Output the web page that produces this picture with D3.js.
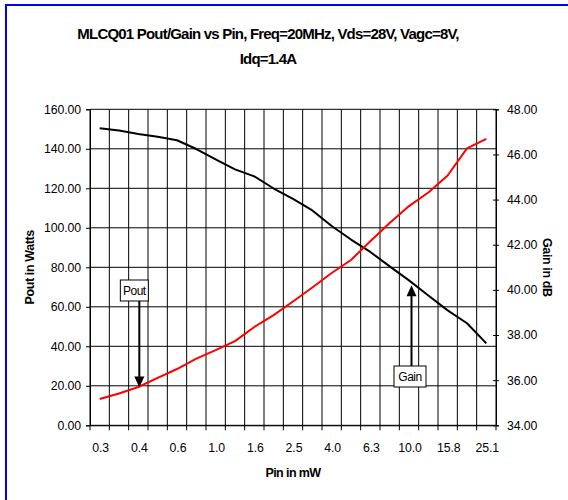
<!DOCTYPE html>
<html>
<head>
<meta charset="utf-8">
<script src="https://cdn.jsdelivr.net/npm/d3@7"></script>
<style>
  html, body { margin: 0; padding: 0; background: #ffffff; }
  svg { display: block; font-family: "Liberation Sans", Arial, sans-serif; }
</style>
</head>
<body>
<svg id="chart" width="568" height="500"></svg>
<script>
// ---- Data ----
const pinLabels = ["0.3","0.3","0.4","0.5","0.6","0.8","1.0","1.3","1.6","2.0","2.5",
                   "3.2","4.0","5.0","6.3","7.9","10.0","12.6","15.8","20.0","25.1"];
const poutWatts = [13.3, 16.1, 19.4, 24.0, 28.5, 33.8, 38.1, 42.6, 49.8, 55.8, 62.7,
                   69.8, 77.1, 83.7, 93.2, 102.4, 111.0, 117.9, 126.5, 140.2, 145.0];
const gainDb    = [47.16, 47.06, 46.91, 46.78, 46.63, 46.24, 45.78, 45.34, 45.03, 44.49, 44.03,
                   43.52, 42.83, 42.23, 41.68, 41.04, 40.42, 39.75, 39.09, 38.52, 37.63];
const leftTicks  = [0, 20, 40, 60, 80, 100, 120, 140, 160];
const rightTicks = [34, 36, 38, 40, 42, 44, 46, 48];
const titleLines = ["MLCQ01 Pout/Gain vs Pin, Freq=20MHz, Vds=28V, Vagc=8V,", "Idq=1.4A"];
// annotation callouts: label, category index, value pointed at
const calloutLabels = ["Pout", "Gain"];
const calloutIndex  = [2, 16];
const calloutValue  = [19.2, 40.2];

// ---- Layout ----
const svg = d3.select("#chart");
const L = 90, R = 496, T = 109.3, B = 425.3;

const x = d3.scaleBand().domain(d3.range(pinLabels.length)).range([L, R]).paddingInner(0).paddingOuter(0);
const cx = i => x(i) + x.bandwidth() / 2;
const yL = d3.scaleLinear().domain([0, 160]).range([B, T]);
const yR = d3.scaleLinear().domain([34, 48]).range([B, T]);

// Blue outer border
svg.append("path").attr("d", "M6,500 V5 H568")
  .attr("fill", "none").attr("stroke", "#0000ff").attr("stroke-width", 2);

// Title
svg.append("g").selectAll("text").data(titleLines).join("text")
  .attr("x", 268).attr("y", (d, i) => 39 + i * 25)
  .attr("text-anchor", "middle")
  .attr("font-size", 15).attr("font-weight", "bold")
  .attr("letter-spacing", -0.8)
  .text(d => d);

// Gridlines
const grid = svg.append("g").attr("stroke", "#000").attr("stroke-width", 1);
const bounds = d3.range(pinLabels.length + 1).map(i => i < pinLabels.length ? x(i) : x(i - 1) + x.bandwidth());
grid.selectAll("line.v").data(bounds).join("line").attr("class", "v")
  .attr("x1", d => d).attr("x2", d => d).attr("y1", T).attr("y2", B);
grid.selectAll("line.h").data(leftTicks).join("line").attr("class", "h")
  .attr("x1", L).attr("x2", R).attr("y1", d => yL(d)).attr("y2", d => yL(d));

// Left axis
const fmt = d3.format(".2f");
const gl = svg.append("g").attr("transform", `translate(${L},0)`)
  .call(d3.axisLeft(yL).tickValues(leftTicks).tickFormat(fmt).tickSize(4).tickPadding(5));
// Right axis
const gr = svg.append("g").attr("transform", `translate(${R},0)`)
  .call(d3.axisRight(yR).tickValues(rightTicks).tickFormat(fmt).tickSize(3).tickPadding(8));
gr.selectAll(".tick line").attr("x1", -3);
// Bottom axis
const gb = svg.append("g").attr("transform", `translate(0,${B})`)
  .call(d3.axisBottom(x).tickValues(d3.range(0, pinLabels.length, 2))
        .tickFormat(i => pinLabels[i]).tickSize(0).tickPadding(18));
gb.selectAll(".tick").attr("transform", d => `translate(${cx(d) + 1},0)`);
gb.append("g").selectAll("line").data(bounds).join("line")
  .attr("x1", d => d).attr("x2", d => d).attr("y1", 0).attr("y2", 5).attr("stroke", "#000");

[gl, gr, gb].forEach(g => {
  g.selectAll("path.domain").attr("stroke", "#000").attr("stroke-width", 1);
  g.selectAll(".tick line").attr("stroke", "#000");
  g.selectAll("text").attr("font-size", 12.3).attr("fill", "#000")
   .attr("font-family", "'Liberation Sans', Arial, sans-serif").attr("letter-spacing", -0.1);
});

// Axis titles
svg.append("text").attr("transform", `translate(34,${(T + B) / 2}) rotate(-90)`)
  .attr("text-anchor", "middle").attr("font-size", 12.5).attr("font-weight", "bold")
  .attr("letter-spacing", -0.4).text("Pout in Watts");
svg.append("text").attr("transform", `translate(543,${(T + B) / 2}) rotate(90)`)
  .attr("text-anchor", "middle").attr("font-size", 12.5).attr("font-weight", "bold")
  .attr("letter-spacing", -0.4).text("Gain in dB");
svg.append("text").attr("x", (L + R) / 2).attr("y", 477)
  .attr("text-anchor", "middle").attr("font-size", 12.5).attr("font-weight", "bold")
  .attr("letter-spacing", -0.6).text("Pin in mW");

// Lines
const lineL = d3.line().x((d, i) => cx(i)).y(d => yL(d));
const lineR = d3.line().x((d, i) => cx(i)).y(d => yR(d));
svg.append("path").datum(gainDb).attr("d", lineR)
  .attr("fill", "none").attr("stroke", "#000").attr("stroke-width", 2).attr("stroke-linejoin", "round");
svg.append("path").datum(poutWatts).attr("d", lineL)
  .attr("fill", "none").attr("stroke", "#ff0000").attr("stroke-width", 2).attr("stroke-linejoin", "round");

// Callouts
const calloutScales = [yL, yR];
const boxY = [280, 366];
calloutLabels.forEach((lab, k) => {
  const tx = cx(calloutIndex[k]) + (k === 0 ? 1 : 2.5);
  const ty = calloutScales[k](calloutValue[k]);
  const bw = k === 0 ? 28 : 32, bh = 21;
  const by = boxY[k];
  const g = svg.append("g");
  const down = ty > by;
  const startY = down ? by + bh : by;
  const headLen = 11, headW = 5;
  const shaftEnd = down ? ty - headLen + 1 : ty + headLen - 1;
  g.append("line").attr("x1", tx).attr("x2", tx).attr("y1", startY).attr("y2", shaftEnd)
    .attr("stroke", "#000").attr("stroke-width", 2);
  g.append("path")
    .attr("d", down
      ? `M${tx - headW},${ty - headLen} L${tx + headW},${ty - headLen} L${tx},${ty} Z`
      : `M${tx - headW},${ty + headLen} L${tx + headW},${ty + headLen} L${tx},${ty} Z`)
    .attr("fill", "#000");
  const off = k === 0 ? 5 : 1.5;
  g.append("rect").attr("x", tx - bw / 2 - off).attr("y", by).attr("width", bw).attr("height", bh)
    .attr("fill", "#fff").attr("stroke", "#000").attr("stroke-width", 1);
  g.append("text").attr("x", tx - off).attr("y", by + 15)
    .attr("text-anchor", "middle").attr("font-size", 12).attr("letter-spacing", -0.5).text(lab);
});
</script>
</body>
</html>
